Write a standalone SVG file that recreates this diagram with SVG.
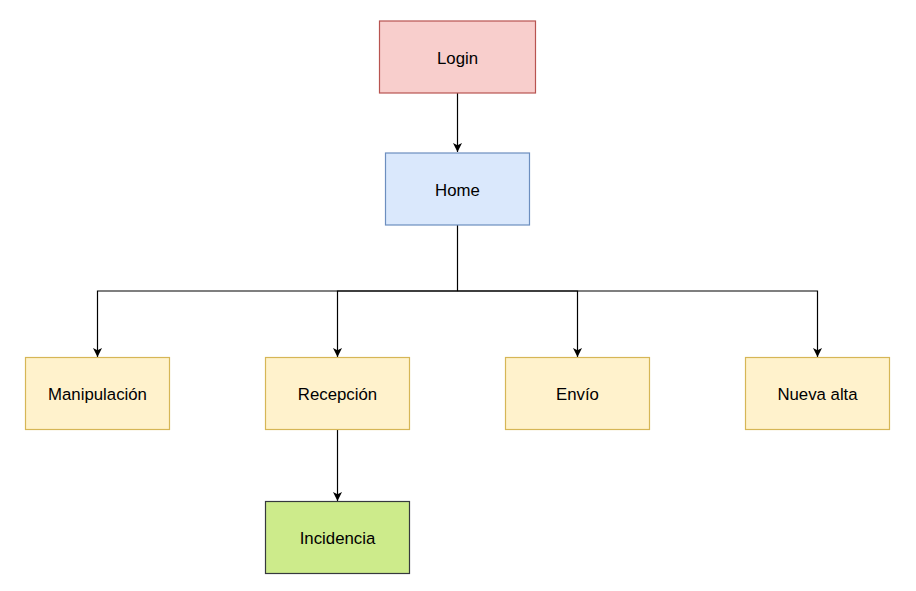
<svg xmlns="http://www.w3.org/2000/svg" width="916" height="591" viewBox="0 0 916 591">
<style>
.box{stroke-width:1.2}
.red{fill:#f8cecc;stroke:#b85450}
.blue{fill:#dae8fc;stroke:#6c8ebf}
.yel{fill:#fff2cc;stroke:#d6b656}
.grn{fill:#cdeb8b;stroke:#36393d}
text{font-family:"Liberation Sans",Arial,sans-serif;font-size:16.8px;fill:#000;text-anchor:middle;dominant-baseline:central}
.edge{fill:none;stroke:#000;stroke-width:1.2}
</style>
<defs>
<marker id="arr" markerUnits="userSpaceOnUse" viewBox="0 0 10 10" refX="10" refY="5" markerWidth="10" markerHeight="9" orient="auto">
<path d="M0,0 L10,5 L0,10 L2.5,5 Z" fill="#000"/>
</marker>
</defs>
<rect width="916" height="591" fill="#fff"/>
<g id="connectors">
<path class="edge" d="M457.5,93 V152" marker-end="url(#arr)"/>
<path class="edge" d="M457.5,225 V291 H97.5 V357" marker-end="url(#arr)"/>
<path class="edge" d="M457.5,291 H337.5 V357" marker-end="url(#arr)"/>
<path class="edge" d="M457.5,291 H577.5 V357" marker-end="url(#arr)"/>
<path class="edge" d="M457.5,291 H817.5 V357" marker-end="url(#arr)"/>
<path class="edge" d="M337.5,429.5 V501" marker-end="url(#arr)"/>
</g>
<g id="login"><rect class="box red" x="379.5" y="21" width="156" height="72"/><text x="457.5" y="58">Login</text></g>
<g id="home"><rect class="box blue" x="385.5" y="153" width="144" height="72"/><text x="457.5" y="190">Home</text></g>
<g id="manipulacion"><rect class="box yel" x="25.5" y="357.5" width="144" height="72"/><text x="97.5" y="394.5">Manipulación</text></g>
<g id="recepcion"><rect class="box yel" x="265.5" y="357.5" width="144" height="72"/><text x="337.5" y="394.5">Recepción</text></g>
<g id="envio"><rect class="box yel" x="505.5" y="357.5" width="144" height="72"/><text x="577.5" y="394.5">Envío</text></g>
<g id="nueva-alta"><rect class="box yel" x="745.5" y="357.5" width="144" height="72"/><text x="817.5" y="394.5">Nueva alta</text></g>
<g id="incidencia"><rect class="box grn" x="265.5" y="501.5" width="144" height="72"/><text x="337.5" y="538.5">Incidencia</text></g>
</svg>
